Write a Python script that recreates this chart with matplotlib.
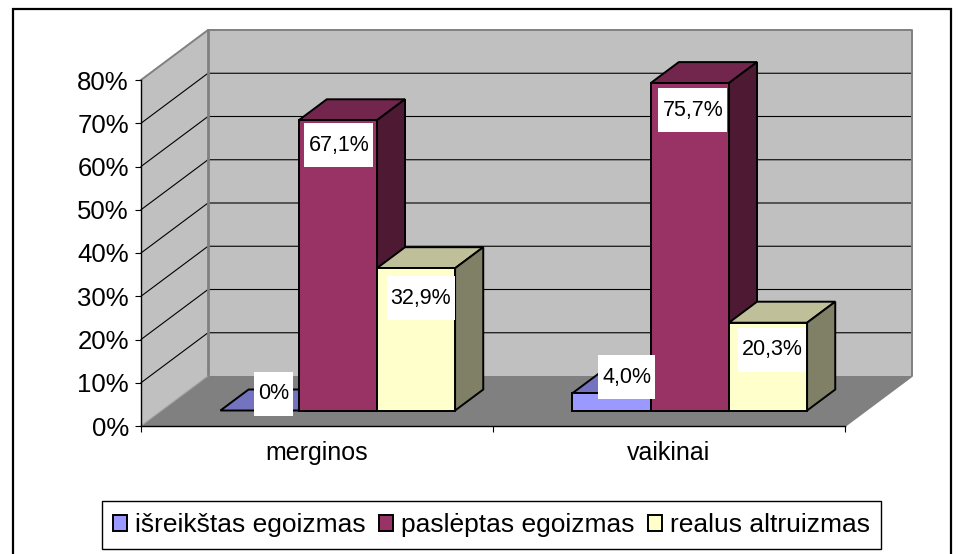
"""3D-look clustered bars drawn on a flat axes, depth done by hand."""
import matplotlib; matplotlib.use("Agg"); import matplotlib.pyplot as plt
from matplotlib.patches import Polygon, Rectangle, Patch
from matplotlib.transforms import IdentityTransform

plt.rcParams["font.family"] = ["Liberation Sans", "DejaVu Sans"]

categories = ["merginos", "vaikinai"]
series = ["išreikštas egoizmas", "paslėptas egoizmas", "realus altruizmas"]
values = [[0, 4.0], [67.1, 75.7], [32.9, 20.3]]
labels = [["0%", "4,0%"], ["67,1%", "75,7%"], ["32,9%", "20,3%"]]
yticks = [0, 10, 20, 30, 40, 50, 60, 70, 80]

front = ["#9999FF", "#993366", "#FFFFCC"]
top = ["#7373BF", "#73264D", "#BFBF99"]
side = ["#4D4D80", "#4D1933", "#808066"]
# label centre relative to bar front-top centre, in px (right, up)
label_off = [[(14, 17), (15, 16)], [(1, -25), (3, -27)], [(5, -30), (4, -27)]]
label_pad = (4, 10)

W, H = 965, 554
fig = plt.figure(figsize=(W/100, H/100), dpi=100, facecolor="white")
ax = fig.add_axes([141/W, 1-426/H, 704/W, 346/H], facecolor="none")
ax.set_xlim(0, 2); ax.set_ylim(0, 80)

DX, DY = 67/352, 50/4.325  # full depth in data units


def pt(x, y, d):
    return (x + d*DX, y + d*DY)


def poly(pts, fc, ec="none", lw=0.0, z=1):
    ax.add_patch(Polygon(pts, closed=True, fc=fc, ec=ec, lw=lw, zorder=z, clip_on=False, joinstyle="miter"))


# walls and floor
poly([pt(0, 0, 0), pt(0, 0, 1), pt(0, 80, 1), pt(0, 80, 0)], "#C0C0C0", z=1)
poly([pt(0, 0, 1), pt(2, 0, 1), pt(2, 80, 1), pt(0, 80, 1)], "#C0C0C0", z=1)
poly([pt(0, 0, 0), pt(2, 0, 0), pt(2, 0, 1), pt(0, 0, 1)], "#808080", z=1.1)
for v in yticks[1:-1]:
    ax.plot(*zip(pt(0, v, 0), pt(0, v, 1), pt(2, v, 1)), color="black", lw=0.8, zorder=1.2, clip_on=False)
ax.plot(*zip(pt(0, 80, 0), pt(0, 80, 1), pt(2, 80, 1), pt(2, 0, 1), pt(2, 0, 0)), color="#808080", lw=1.4, zorder=1.3, clip_on=False)
ax.plot(*zip(pt(0, 0, 1), pt(0, 80, 1)), color="#808080", lw=2.0, zorder=1.3, clip_on=False)
ax.plot(*zip(pt(0, 0, 0), pt(0, 0, 1)), color="#A0A0A0", lw=0.8, zorder=1.3, clip_on=False)

# bars
bw = 1/4.5
d0, d1 = 0.31, 0.73
z = 2
tops = {}
for c in range(len(categories)):
    for s in range(len(series)):
        x0 = c + 0.75*bw + s*bw
        x1 = x0 + bw
        v = values[s][c]
        poly([pt(x0, v, d0), pt(x1, v, d0), pt(x1, v, d1), pt(x0, v, d1)], top[s], "black", 1.4, z)
        if v > 0:
            poly([pt(x1, 0, d0), pt(x1, 0, d1), pt(x1, v, d1), pt(x1, v, d0)], side[s], "black", 1.4, z)
            poly([pt(x0, 0, d0), pt(x1, 0, d0), pt(x1, v, d0), pt(x0, v, d0)], front[s], "black", 1.4, z)
        tops[s, c] = pt((x0+x1)/2, v, d0)
        z += 0.1

# axis dressing
for sp in ["top", "right"]:
    ax.spines[sp].set_visible(False)
for sp in ["left", "bottom"]:
    ax.spines[sp].set_linewidth(1.0); ax.spines[sp].set_zorder(1.5)
ax.set_yticks(yticks); ax.set_yticklabels(["%d%%" % v for v in yticks], fontsize=18.5)
ax.tick_params(axis="y", length=4.3, width=0.8, pad=4.5)
ax.set_xticks([0, 1, 2]); ax.set_xticklabels(["", "", ""])
ax.tick_params(axis="x", which="major", length=4.3, width=0.8)
ax.set_xticks([0.5, 1.5], minor=True); ax.set_xticklabels(categories, minor=True, fontsize=18)
ax.tick_params(axis="x", which="minor", length=0, pad=11)

# data labels with their wide white boxes
fig.canvas.draw()
rend = fig.canvas.get_renderer()
for s in range(len(series)):
    for c in range(len(categories)):
        ox, oy = label_off[s][c]
        t = ax.annotate(labels[s][c], xy=tops[s, c], xytext=(ox*0.72, oy*0.72), textcoords="offset points",
                        ha="center", va="center", fontsize=15.5, zorder=11, annotation_clip=False)
        bb = t.get_window_extent(rend)
        px, py = label_pad
        cy = (bb.y0+bb.y1)/2
        ax.add_patch(Rectangle((bb.x0-px, cy-22), bb.width+2*px, 44, transform=IdentityTransform(),
                               fc="white", ec="none", zorder=10, clip_on=False))

# legend
handles = [Patch(fc=f, ec="black", lw=1.4) for f in front]
leg = fig.legend(handles, series, ncol=3, loc="center", bbox_to_anchor=(491.5/W, 1-525/H), fontsize=19,
                 fancybox=False, framealpha=1, edgecolor="black", handlelength=0.53, handleheight=0.55,
                 handletextpad=0.30, columnspacing=0.5, borderpad=0.44, borderaxespad=0)
leg.get_frame().set_linewidth(1.0)

# chart area border runs off the bottom of the picture
fig.add_artist(Rectangle((12.5, -10), 938, H+10-8.5, transform=IdentityTransform(), fc="none", ec="black", lw=1.6, zorder=0.5))

fig.savefig("out.png", dpi=100)
